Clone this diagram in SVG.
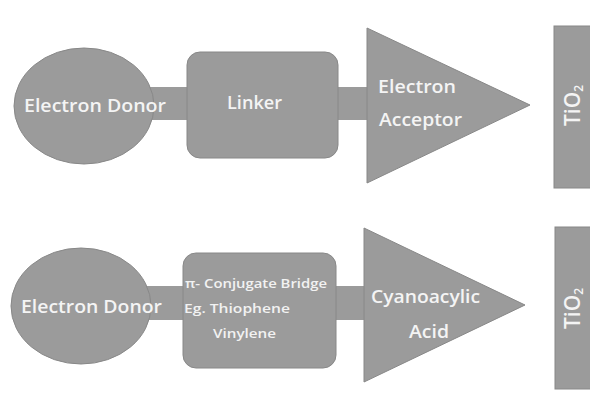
<svg xmlns="http://www.w3.org/2000/svg" width="590" height="398" viewBox="0 0 590 398">
<style>
.s{fill:#9b9b9b;stroke:#888888;stroke-width:1}
.b{fill:#9b9b9b}
.t{font-family:"Open Sans","Noto Sans",sans-serif;font-size:18px;font-weight:600;fill:#f4f4f4}
.m{font-family:"Open Sans","Noto Sans",sans-serif;font-size:13px;font-weight:600;fill:#f2f2f2}
</style>
<rect width="590" height="398" fill="#ffffff"/>
<g id="connectors">
<rect class="b" x="140" y="87" width="232" height="33"/>
<rect class="b" x="138" y="286" width="230" height="34"/>
</g>
<g id="donor1">
<ellipse class="s" cx="84" cy="106" rx="70" ry="58"/>
<text class="t" x="24" y="112" textLength="142" lengthAdjust="spacingAndGlyphs">Electron Donor</text>
</g>
<g id="linker1">
<rect class="s" x="187" y="52" width="151" height="106" rx="13"/>
<text class="t" x="227" y="109" textLength="55" lengthAdjust="spacingAndGlyphs">Linker</text>
</g>
<g id="acceptor1">
<polygon class="s" points="367,28 530,105 367,183"/>
<text class="t" x="378" y="93" textLength="78" lengthAdjust="spacingAndGlyphs">Electron</text>
<text class="t" x="379" y="126" textLength="83" lengthAdjust="spacingAndGlyphs">Acceptor</text>
</g>
<g id="tio2a">
<rect class="s" x="554" y="26" width="40" height="162"/>
<text class="t" transform="translate(580,126) rotate(-90)" style="font-size:21px">TiO<tspan dy="3" style="font-size:12px">2</tspan></text>
</g>
<g id="donor2">
<ellipse class="s" cx="81" cy="306" rx="70" ry="58"/>
<text class="t" x="21" y="313" textLength="141" lengthAdjust="spacingAndGlyphs">Electron Donor</text>
</g>
<g id="bridge2">
<rect class="s" x="183" y="253" width="153" height="115" rx="13"/>
<text class="m" x="185" y="288" textLength="142" lengthAdjust="spacingAndGlyphs">π- Conjugate Bridge</text>
<text class="m" x="184" y="313" textLength="106" lengthAdjust="spacingAndGlyphs">Eg. Thiophene</text>
<text class="m" x="213" y="338" textLength="63" lengthAdjust="spacingAndGlyphs">Vinylene</text>
</g>
<g id="acceptor2">
<polygon class="s" points="364,228 525,305 364,382"/>
<text class="t" x="371" y="303" textLength="109" lengthAdjust="spacingAndGlyphs">Cyanoacylic</text>
<text class="t" x="409" y="338" textLength="40" lengthAdjust="spacingAndGlyphs">Acid</text>
</g>
<g id="tio2b">
<rect class="s" x="555" y="227" width="40" height="162"/>
<text class="t" transform="translate(580,329) rotate(-90)" style="font-size:21px">TiO<tspan dy="3" style="font-size:12px">2</tspan></text>
</g>
</svg>
